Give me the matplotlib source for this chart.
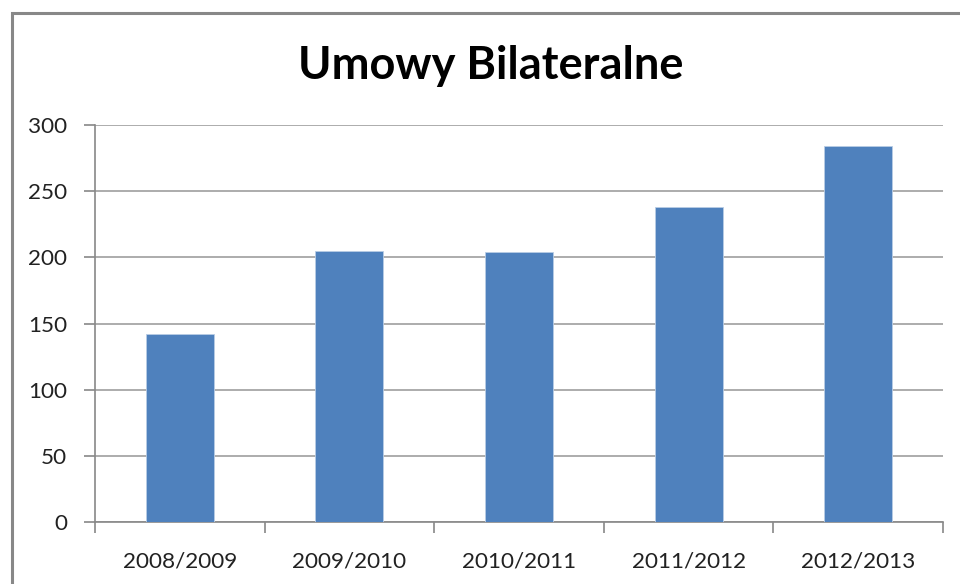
import matplotlib.pyplot as plt
from matplotlib.patches import Rectangle

seasons = ["2008/2009", "2009/2010", "2010/2011", "2011/2012", "2012/2013"]
agreements = [142, 205, 204, 238, 284]
yticks = [0, 50, 100, 150, 200, 250, 300]

plt.rcParams["font.family"] = ["Lato", "DejaVu Sans"]

fig = plt.figure(figsize=(9.6, 5.84), dpi=100)
ax = fig.add_axes([95/960, 1-522/584, (943-95)/960, (522-125)/584])

x = range(len(seasons))
ax.bar(x, agreements, width=0.4, color="#4F81BD", edgecolor="#b9cde5", linewidth=0.6, zorder=3)

ax.set_xlim(-0.5, len(seasons)-0.5)
ax.set_ylim(0, 300)
ax.set_yticks(yticks)
ax.yaxis.grid(True, color="#a6a6a6", linewidth=1.3, zorder=0)

# category labels centered, tick marks at boundaries
ax.set_xticks(list(x))
ax.set_xticklabels(seasons, fontsize=16.2, color="#222222")
ax.set_xticks([i - 0.5 for i in range(len(seasons)+1)], minor=True)
ax.tick_params(axis="x", which="major", length=0, pad=21)
ax.tick_params(axis="x", which="minor", length=8, color="#888888", width=1.2)
ax.tick_params(axis="y", length=8, color="#888888", width=1.2, labelsize=16.2,
               labelcolor="#222222", pad=12)

for s in ["top", "right"]:
    ax.spines[s].set_visible(False)
for s in ["left", "bottom"]:
    ax.spines[s].set_color("#888888")
    ax.spines[s].set_linewidth(1.2)

fig.text(491/960, 1-66/584, "Umowy Bilateralne", ha="center", va="center",
         fontsize=32.5, fontweight="bold")

# outer chart border (runs off the right and bottom edge)
fig.patches.append(Rectangle((12/960, -0.1), 1.2, 1-13/584+0.1, transform=fig.transFigure,
                             fill=False, edgecolor="#888888", linewidth=2.2, clip_on=False))

fig.savefig("out.png", dpi=100)
